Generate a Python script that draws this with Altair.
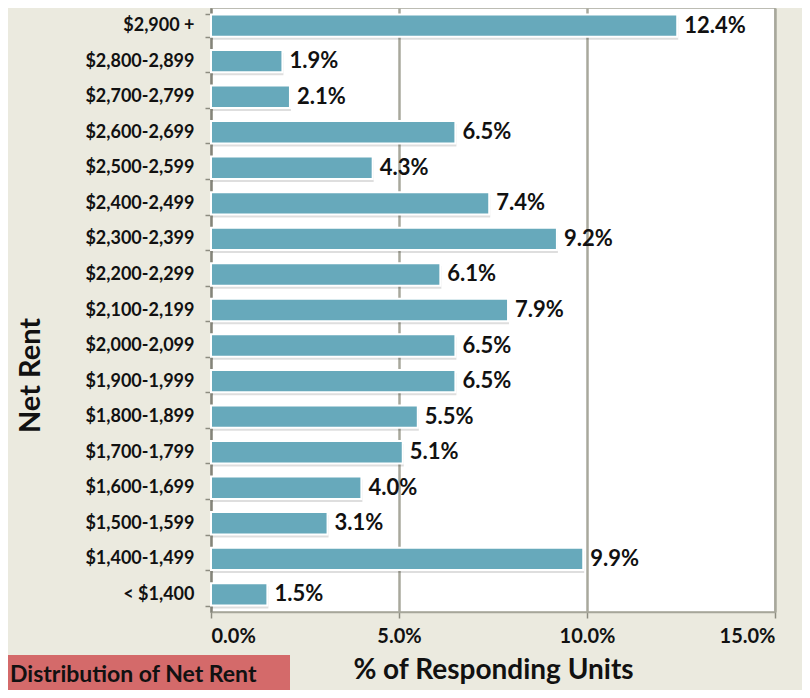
import altair as alt
import pandas as pd

categories = ["$2,900 +", "$2,800-2,899", "$2,700-2,799", "$2,600-2,699", "$2,500-2,599",
              "$2,400-2,499", "$2,300-2,399", "$2,200-2,299", "$2,100-2,199", "$2,000-2,099",
              "$1,900-1,999", "$1,800-1,899", "$1,700-1,799", "$1,600-1,699", "$1,500-1,599",
              "$1,400-1,499", "< $1,400"]
values = [12.4, 1.9, 2.1, 6.5, 4.3, 7.4, 9.2, 6.1, 7.9, 6.5, 6.5, 5.5, 5.1, 4.0, 3.1, 9.9, 1.5]
x_ticks = [0, 5, 10, 15]

df = pd.DataFrame({"cat": categories, "val": values})
df["label"] = [f"{v:.1f}%" for v in values]

FONT = "Lato"
BG = "#EBEADF"
W, H = 564, 604

y_enc = alt.Y("cat:N", sort=categories,
              scale=alt.Scale(paddingInner=0.37, paddingOuter=0.18),
              axis=alt.Axis(title="Net Rent", labelFont=FONT, labelFontSize=18, labelFontWeight="bold",
                            labelColor="#111", labelPadding=11, tickBand="extent", tickSize=6,
                            tickColor="#8C8C80", tickWidth=1.5, domainColor="#84847A", domainWidth=2,
                            grid=False,
                            titleFont=FONT, titleFontSize=29, titleFontWeight="bold", titleColor="#111",
                            titleX=-181, titleY=367, titleAngle=-90, titleAlign="center",
                            titleBaseline="middle"))
x_enc = alt.X("val:Q", scale=alt.Scale(domain=[0, 15], nice=False),
              axis=alt.Axis(values=x_ticks, labelExpr="format(datum.value, '.1f') + '%'",
                            title="% of Responding Units", labelFont=FONT, labelFontSize=20,
                            labelFontWeight="bold", labelColor="#111", labelPadding=8,
                            tickSize=6, tickColor="#8C8C80", tickWidth=1.5,
                            domainColor="#A6A69A", domainWidth=1.5,
                            grid=True, gridColor="#A8A89C", gridWidth=2.5,
                            titleFont=FONT, titleFontSize=28, titleFontWeight="bold",
                            titleColor="#111", titlePadding=10))

shadow = alt.Chart(df).mark_bar(color="#000000", opacity=0.13, xOffset=1, yOffset=3).encode(
    x=x_enc, y=y_enc)
bars = alt.Chart(df).mark_bar(color="#67A9BB", stroke="white", strokeWidth=2).encode(
    x="val:Q", y=alt.Y("cat:N", sort=categories))
labels = alt.Chart(df).mark_text(align="left", baseline="middle", dx=7, font=FONT, fontSize=22,
                                 fontWeight="bold", color="#111").encode(
    x="val:Q", y=alt.Y("cat:N", sort=categories), text="label:N")

box = alt.Chart(pd.DataFrame({"t": ["Distribution of Net Rent"]})).mark_rect(
    color="#D46A6A").encode(x=alt.value(-203), x2=alt.value(79), y=alt.value(647), y2=alt.value(682))
box_text = alt.Chart(pd.DataFrame({"t": ["Distribution of Net Rent"]})).mark_text(
    align="left", baseline="middle", font=FONT, fontSize=23, fontWeight="bold", color="#111").encode(
    x=alt.value(-201), y=alt.value(667), text="t:N")

chart = alt.layer(shadow, bars, labels, box, box_text).properties(
    width=W, height=H, background=BG,
    autosize=alt.AutoSizeParams(type="none"),
    padding={"left": 203, "top": 0, "right": 27, "bottom": 78},
).configure_view(fill="white", stroke="#A6A69A", strokeWidth=1.5)

chart.save("out.html", embed_options={"renderer": "svg", "actions": False})
